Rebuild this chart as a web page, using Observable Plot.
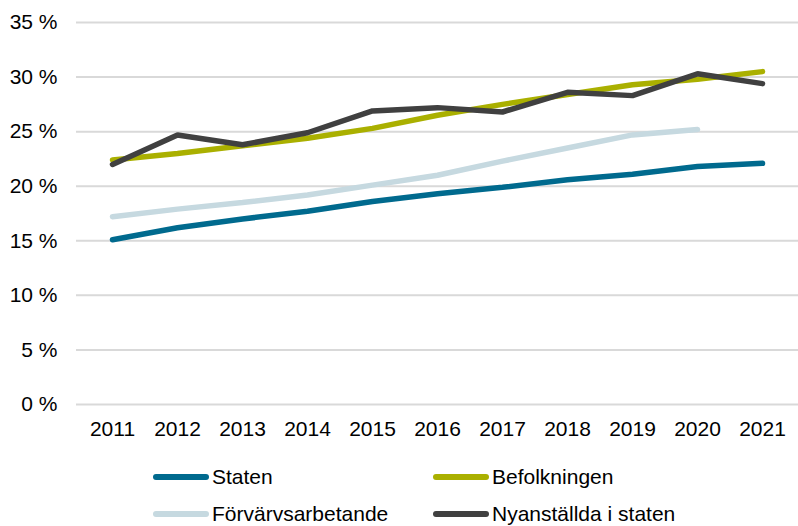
<!DOCTYPE html>
<html>
<head>
<meta charset="utf-8">
<script src="https://cdn.jsdelivr.net/npm/d3@7"></script>
<script src="https://cdn.jsdelivr.net/npm/@observablehq/plot@0.6"></script>
<style>
  body { margin: 0; background: #fff; font-family: "Liberation Sans", Arial, sans-serif; }
  #legend { position: relative; width: 798px; height: 81px; font-size: 21px; color: #000; }
  .item { position: absolute; display: flex; align-items: center; height: 24px; }
  .sw { width: 56px; height: 6px; border-radius: 3px; margin-right: 3px; }
</style>
</head>
<body>
<div id="chart"></div>
<div id="legend"></div>
<script>
const years = [2011, 2012, 2013, 2014, 2015, 2016, 2017, 2018, 2019, 2020, 2021];
const staten = [15.1, 16.2, 17.0, 17.7, 18.6, 19.3, 19.9, 20.6, 21.1, 21.8, 22.1];
const befolkningen = [22.4, 23.0, 23.7, 24.4, 25.3, 26.5, 27.5, 28.4, 29.3, 29.8, 30.5];
const forvarvs = [17.2, 17.9, 18.5, 19.2, 20.1, 21.0, 22.3, 23.5, 24.7, 25.2, null];
const nyanstallda = [22.0, 24.7, 23.8, 24.9, 26.9, 27.2, 26.8, 28.6, 28.3, 30.3, 29.4];
const yTicks = [0, 5, 10, 15, 20, 25, 30, 35];

const seriesNames = ["Staten", "Befolkningen", "Förvärvsarbetande", "Nyanställda i staten"];
const seriesValues = [staten, befolkningen, forvarvs, nyanstallda];
const colors = ["#006a8e", "#aab000", "#c6d9e0", "#404040"];

const data = [];
seriesNames.forEach((name, i) => {
  years.forEach((yr, j) => {
    const v = seriesValues[i][j];
    if (v != null) data.push({series: name, year: String(yr), value: v});
  });
});

// draw order: Förvärvs, Staten, Befolkningen, Nyanställda on top
const drawOrder = ["Förvärvsarbetande", "Staten", "Befolkningen", "Nyanställda i staten"];

const chart = Plot.plot({
  width: 798,
  height: 445,
  marginLeft: 76,
  marginRight: 0,
  marginTop: 22,
  marginBottom: 41,
  style: {fontFamily: "Liberation Sans, Arial, sans-serif", fontSize: "21px", color: "#000", background: "#fff"},
  x: {type: "point", domain: years.map(String), padding: 0.5, label: null},
  y: {domain: [0, 35], label: null},
  marks: [
    Plot.ruleY(yTicks, {stroke: "#d9d9d9", strokeWidth: 2}),
    Plot.axisY(yTicks, {tickSize: 0, tickPadding: 19, tickFormat: d => d + " %", fontSize: 21}),
    Plot.axisX({tickSize: 0, tickPadding: 17, fontSize: 21}),
    ...drawOrder.map(name => Plot.line(data.filter(d => d.series === name), {
      x: "year", y: "value",
      stroke: colors[seriesNames.indexOf(name)],
      strokeWidth: 5.5,
      strokeLinecap: "round",
      strokeLinejoin: "miter"
    }))
  ]
});
document.getElementById("chart").appendChild(chart);

const legend = document.getElementById("legend");
const positions = [[153, 20], [433, 20], [153, 57], [433, 57]];
seriesNames.forEach((name, i) => {
  const el = document.createElement("div");
  el.className = "item";
  el.style.left = positions[i][0] + "px";
  el.style.top = positions[i][1] + "px";
  el.innerHTML = `<span class="sw" style="background:${colors[i]}"></span><span>${name}</span>`;
  legend.appendChild(el);
});
</script>
</body>
</html>
